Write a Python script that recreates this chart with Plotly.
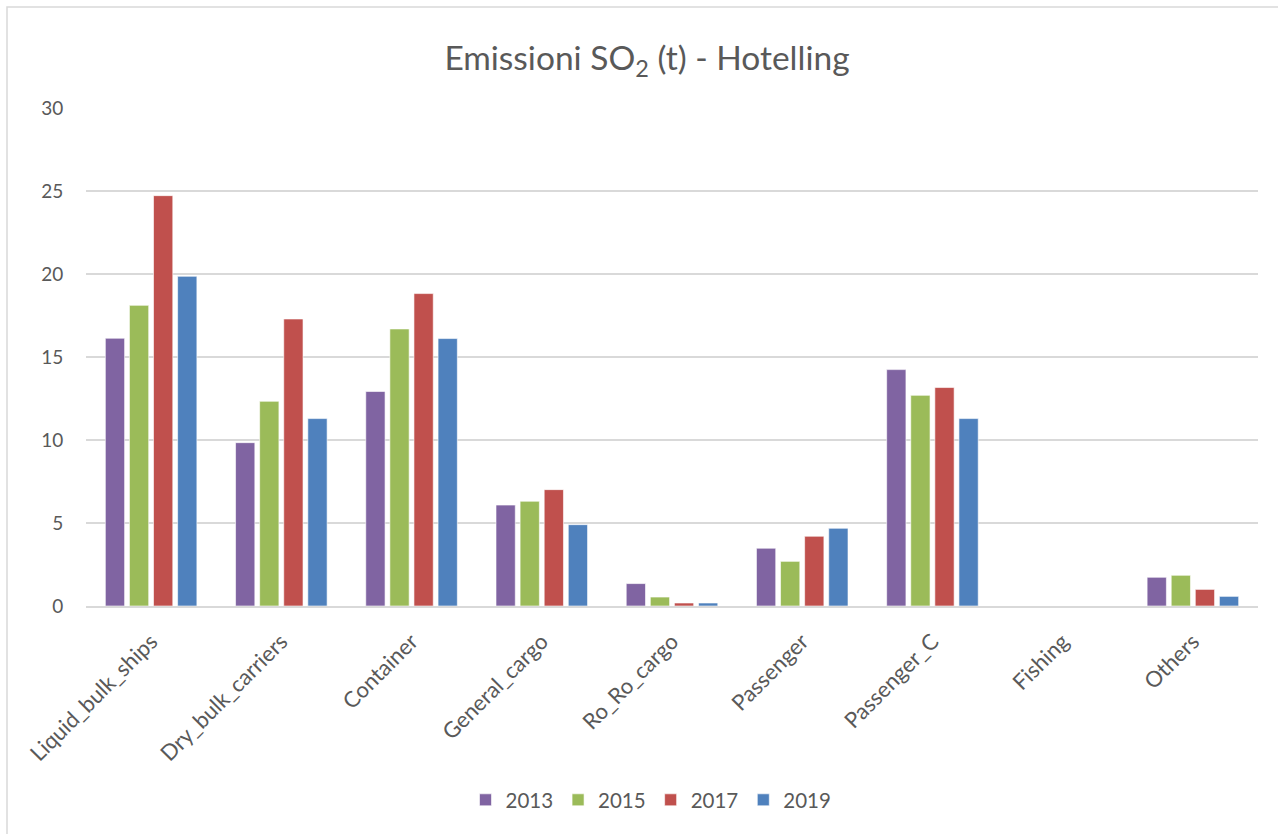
import plotly.graph_objects as go

categories = ["Liquid_bulk_ships", "Dry_bulk_carriers", "Container", "General_cargo",
              "Ro_Ro_cargo", "Passenger", "Passenger_C", "Fishing", "Others"]
years = ["2013", "2015", "2017", "2019"]
so2_2013 = [16.13, 9.84, 12.92, 6.08, 1.35, 3.48, 14.24, 0.0, 1.73]
so2_2015 = [18.11, 12.33, 16.69, 6.31, 0.54, 2.69, 12.69, 0.0, 1.85]
so2_2017 = [24.72, 17.29, 18.82, 7.01, 0.18, 4.20, 13.16, 0.0, 1.00]
so2_2019 = [19.86, 11.29, 16.11, 4.90, 0.18, 4.68, 11.29, 0.0, 0.58]
series = [so2_2013, so2_2015, so2_2017, so2_2019]
colors = ["#8064A2", "#9BBB59", "#C0504D", "#4F81BD"]

W, H = 1278, 834
ML, MR, MT, MB = 86, 20, 108, 228
pw, ph = W - ML - MR, H - MT - MB

FONT = "Lato, 'Open Sans', sans-serif"
GREY = "#595959"

fig = go.Figure()
for yr, vals, col in zip(years, series, colors):
    fig.add_trace(go.Bar(
        x=categories, y=vals, name=yr,
        marker=dict(color=col, line=dict(color="rgba(255,255,255,0.6)", width=1)),
    ))

# chart-area frame (left and top edges visible)
fig.add_shape(type="rect", xref="paper", yref="paper",
              x0=(7 - ML) / pw, x1=(W + 20 - ML) / pw,
              y0=(MT + ph - (H + 20)) / ph, y1=(MT + ph - 7) / ph,
              line=dict(color="#d9d9d9", width=1.5), fillcolor="rgba(0,0,0,0)", layer="below")

fig.update_layout(
    width=W, height=H,
    margin=dict(l=ML, r=MR, t=MT, b=MB),
    paper_bgcolor="white", plot_bgcolor="white",
    font=dict(family=FONT, color=GREY, size=19),
    title=dict(text="Emissioni SO<sub>2</sub> (t) - Hotelling", x=647 / W, xanchor="center",
               y=1 - 58 / H, yanchor="middle", font=dict(size=33.5, color=GREY, family=FONT)),
    barmode="group", bargap=0.26, bargroupgap=0.2,
    showlegend=True,
    legend=dict(orientation="h", x=(651 - ML) / pw, xanchor="center",
                y=(MT + ph - 800) / ph, yanchor="middle", itemwidth=30,
                font=dict(size=20.5, color=GREY, family=FONT)),
    xaxis=dict(showline=True, linecolor="#d9d9d9", linewidth=2, showgrid=False,
               tickangle=-45, ticks="", tickfont=dict(size=22, color=GREY),
               ticklabelstandoff=12),
    yaxis=dict(range=[0, 30], dtick=5, showgrid=True, gridcolor="#d9d9d9", gridwidth=1.5,
               zeroline=False, ticks="outside", ticklen=18, tickcolor="rgba(0,0,0,0)",
               tickfont=dict(size=19, color=GREY)),
)

fig.write_html("out.html")
